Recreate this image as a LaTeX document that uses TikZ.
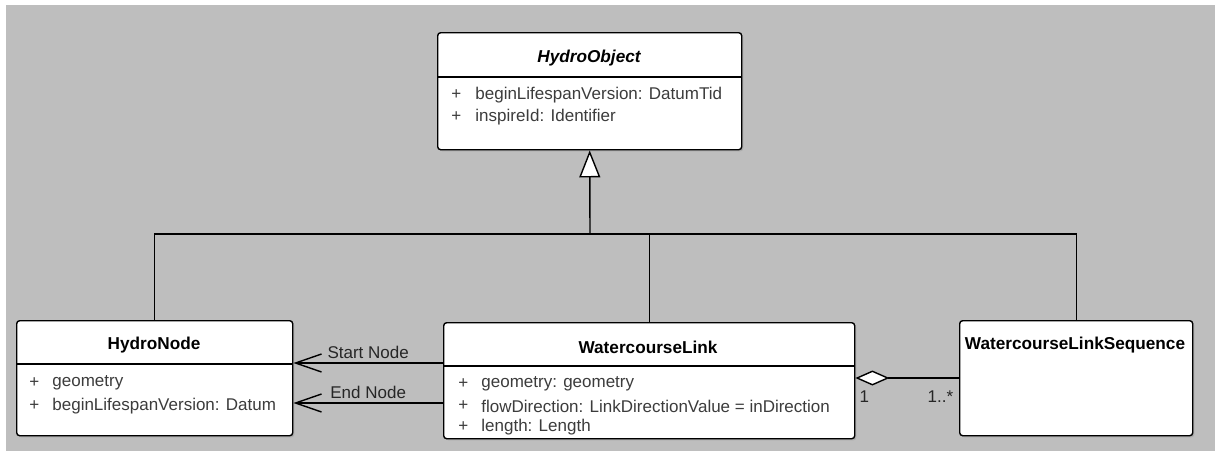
\documentclass[tikz,border=0pt]{standalone}
\usepackage{fontspec}
\setmainfont{Liberation Sans}
\usepackage{tikz}
\usetikzlibrary{arrows.meta,shadows}

\definecolor{bggray}{RGB}{190,190,190}
\definecolor{attrgray}{RGB}{60,60,60}

\tikzset{
  classbox/.style={draw, line width=0.7pt, fill=white, rounded corners=1.5pt,
    anchor=north west, inner sep=0pt,
    drop shadow={shadow xshift=0.8pt, shadow yshift=-0.8pt, opacity=0.3}},
  classname/.style={inner sep=0pt, font=\fontsize{8.6}{10}\selectfont\bfseries},
  attr/.style={anchor=west, inner sep=0pt, text=attrgray, font=\fontsize{8.5}{10}\selectfont},
  rel/.style={line width=0.7pt},
  inherit/.style={rel, -{Triangle[open, fill=white, length=13.5pt, width=10.5pt]}},
  navig/.style={rel, -{Straight Barb[length=13pt, width=9pt]}},
  aggr/.style={rel, {Diamond[open, fill=white, length=17pt, width=7.5pt]}-},
  rellabel/.style={inner sep=1pt, text=black!85, font=\fontsize{8.5}{10}\selectfont}
}

\begin{document}
\begin{tikzpicture}[x=0.5pt, y=-0.5pt]
			\useasboundingbox (0,0) rectangle (1215,451);
			\fill[bggray] (6,5) rectangle (1215,451);

			% classes
			\node[classbox, minimum width=152pt, minimum height=58.5pt] (hobj) at (437,32) {};
			\node[classbox, minimum width=138pt, minimum height=57.5pt] (hnode) at (16,320) {};
			\node[classbox, minimum width=205.5pt, minimum height=58pt] (wlink) at (443,322) {};
			\node[classbox, minimum width=116.5pt, minimum height=57.5pt] (wseq) at (959,320) {};

			\draw[rel] (hobj.west |- 0,77) -- (hobj.east |- 0,77);
			\draw[rel] (hnode.west |- 0,364) -- (hnode.east |- 0,364);
			\draw[rel] (wlink.west |- 0,366) -- (wlink.east |- 0,366);

			\node[classname, font=\fontsize{8.6}{10}\selectfont\bfseries\itshape] (hobjname) at (589,58) {HydroObject};
			\node[attr] (hobjp1) at (451,95) {+};
			\node[attr] (hobja1) at (475,95) {beginLifespanVersion: DatumTid};
			\node[attr] (hobjp2) at (451,117) {+};
			\node[attr] (hobja2) at (475,117) {inspireId: Identifier};

			\node[classname] (hnodename) at (154,345) {HydroNode};
			\node[attr] (hnodep1) at (29,383) {+};
			\node[attr] (hnodea1) at (52,383) {geometry};
			\node[attr] (hnodep2) at (29,406) {+};
			\node[attr] (hnodea2) at (52,406) {beginLifespanVersion: Datum};

			\node[classname] (wlinkname) at (648,347) {WatercourseLink};
			\node[attr] (wlinkp1) at (458,384) {+};
			\node[attr] (wlinka1) at (481,384) {geometry: geometry};
			\node[attr] (wlinkp2) at (458,406) {+};
			\node[attr] (wlinka2) at (481,406) {flowDirection: LinkDirectionValue = inDirection};
			\node[attr] (wlinkp3) at (458,427) {+};
			\node[attr] (wlinka3) at (481,427) {length: Length};

			\node[classname] (wseqname) at (1075,345) {WatercourseLinkSequence};

			% generalisation
			\coordinate (bus) at (590,234);
			\draw[inherit] (bus) -- (hobj.south);
			\draw[rel] (hnode.north) |- (bus) -| (wseq.north);
			\draw[rel] (wlink.north) -- (wlink.north |- bus);

			% associations
			\coordinate (startend) at (443,363);
			\coordinate (endend) at (443,403);
			\draw[navig] (startend) -- node[rellabel, above, yshift=1pt] {Start Node} (hnode.east |- startend);
			\draw[navig] (endend) -- node[rellabel, above, yshift=1pt] {End Node} (hnode.east |- endend);
			\draw[aggr] (wlink.east |- 0,378) -- (wseq.west |- 0,378)
				node[rellabel, pos=0.086, yshift=-9.5pt] {1}
				node[rellabel, pos=0.82, yshift=-9.5pt] {1..*};
		\end{tikzpicture}
\end{document}
